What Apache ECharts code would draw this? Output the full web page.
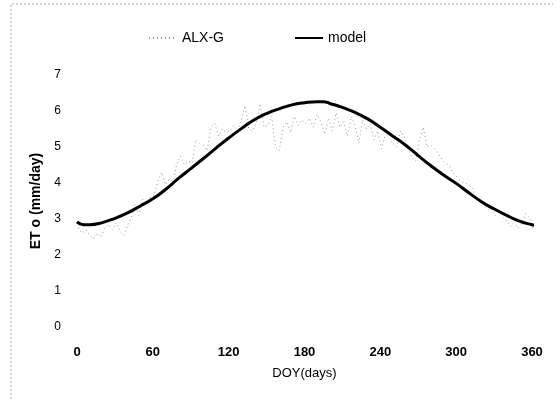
<!DOCTYPE html>
<html>
<head>
<meta charset="utf-8">
<script src="https://cdn.jsdelivr.net/npm/echarts@6/dist/echarts.min.js"></script>
<style>
  html, body { margin: 0; padding: 0; background: #fff; }
  #chart { width: 560px; height: 403px; }
</style>
</head>
<body>
<div id="chart"></div>
<script>
// x 轴刻度 (DOY)
var xTicks = [0, 60, 120, 180, 240, 300, 360];
// y 轴刻度
var yTicks = [0, 1, 2, 3, 4, 5, 6, 7];

// 模型曲线 [day, ETo]
var modelData = [
  [0, 2.92], [5, 2.84], [10, 2.84], [20, 2.9], [30, 3.02], [40, 3.17],
  [50, 3.36], [60, 3.56], [70, 3.82], [80, 4.12], [90, 4.4], [100, 4.68],
  [110, 4.97], [120, 5.25], [130, 5.51], [140, 5.75], [150, 5.93], [160, 6.06],
  [170, 6.17], [180, 6.23], [190, 6.26], [195, 6.26], [200, 6.21], [210, 6.1],
  [220, 5.96], [230, 5.78], [240, 5.55], [250, 5.3], [260, 5.05], [270, 4.76],
  [280, 4.48], [290, 4.22], [300, 3.99], [310, 3.73], [320, 3.48], [330, 3.28],
  [340, 3.1], [350, 2.94], [360, 2.84], [365, 2.8]
];

// 实测 ALX-G [day, ETo]
var alxData = [
  [1, 2.75], [4, 2.6], [7, 2.7], [10, 2.55], [13, 2.45], [16, 2.6], [19, 2.5],
  [22, 2.75], [25, 2.85], [28, 2.7], [31, 2.9], [34, 2.65], [37, 2.55], [40, 2.8],
  [43, 3.05], [46, 3.4], [49, 3.1], [52, 3.55], [55, 3.45], [58, 3.6], [61, 3.65],
  [64, 4.05], [67, 4.3], [70, 3.95], [73, 4.1], [76, 4.05], [79, 4.55], [82, 4.75],
  [85, 4.5], [88, 4.6], [91, 4.55], [94, 5.2], [97, 5.1], [100, 5.05], [103, 4.9],
  [106, 5.55], [109, 5.65], [112, 5.3], [115, 5.5], [118, 5.4], [121, 5.45], [124, 5.6],
  [127, 5.45], [130, 5.75], [133, 6.15], [136, 5.5], [139, 5.45], [142, 5.7], [145, 6.2],
  [148, 5.55], [151, 5.6], [154, 5.85], [157, 5.0], [160, 4.9], [163, 5.55], [166, 5.7],
  [169, 5.4], [172, 5.85], [175, 5.6], [178, 5.75], [181, 5.65], [184, 5.8], [187, 5.55],
  [190, 5.9], [193, 5.7], [196, 5.35], [199, 5.8], [202, 5.45], [205, 5.95], [208, 5.55],
  [211, 5.7], [214, 5.3], [217, 5.85], [220, 5.6], [223, 5.1], [226, 5.75], [229, 5.5],
  [232, 5.65], [235, 5.2], [238, 5.45], [241, 4.95], [244, 5.35], [247, 5.25], [250, 5.1],
  [253, 5.0], [256, 5.45], [259, 5.3], [262, 4.95], [265, 4.7], [268, 4.6], [271, 5.2],
  [274, 5.55], [277, 5.0], [280, 5.05], [283, 4.95], [286, 4.8], [289, 4.65], [292, 4.55],
  [295, 4.45], [298, 4.25], [301, 4.15], [304, 4.05], [307, 4.0], [310, 3.95], [313, 3.85],
  [316, 3.55], [319, 3.5], [322, 3.4], [325, 3.25], [328, 3.3], [331, 3.1], [334, 3.2],
  [337, 3.05], [340, 2.95], [343, 2.8], [346, 2.9], [349, 2.75], [352, 2.85], [355, 3.15],
  [358, 3.05], [361, 2.7], [364, 2.85]
];

var font = "'Liberation Sans', Arial, sans-serif";

var chart = echarts.init(document.getElementById("chart"));
chart.setOption({
  animation: false,
  backgroundColor: "#fff",
  textStyle: { fontFamily: font, color: "#000" },
  // 外框 (只看得到左边和上边的虚线)
  graphic: [
    {
      type: "polyline",
      shape: { points: [[11, 399], [11, 4], [553, 4]] },
      style: { stroke: "#aaa", lineWidth: 1, lineDash: [2, 2], fill: null }
    }
  ],
  legend: {
    left: 143,
    top: 26,
    itemWidth: 28,
    itemHeight: 10,
    itemGap: 70,
    itemStyle: { opacity: 0 },
    textStyle: { fontFamily: font, fontSize: 14, color: "#000" },
    data: ["ALX-G", "model"]
  },
  grid: { left: 77, right: 28, top: 75, bottom: 76 },
  xAxis: {
    type: "value",
    min: xTicks[0],
    max: xTicks[xTicks.length - 1],
    interval: 60,
    name: "DOY(days)",
    nameLocation: "middle",
    nameGap: 40,
    nameTextStyle: { fontFamily: font, fontSize: 13, color: "#000" },
    axisLine: { show: false },
    axisTick: { show: false },
    splitLine: { show: false },
    axisLabel: { margin: 19, fontSize: 13, fontWeight: "bold", color: "#000", fontFamily: font }
  },
  yAxis: {
    type: "value",
    min: yTicks[0],
    max: yTicks[yTicks.length - 1],
    interval: 1,
    name: "ET o (mm/day)",
    nameLocation: "middle",
    nameGap: 30,
    nameTextStyle: { fontFamily: font, fontSize: 14, fontWeight: "bold", color: "#000" },
    axisLine: { show: false },
    axisTick: { show: false },
    splitLine: { show: false },
    axisLabel: { margin: 16, fontSize: 12, color: "#000", fontFamily: font }
  },
  series: [
    {
      name: "ALX-G",
      type: "line",
      data: alxData,
      symbol: "none",
      clip: false,
      z: 1,
      lineStyle: { color: "#999", width: 1, type: [1, 3] },
      itemStyle: { color: "#999" }
    },
    {
      name: "model",
      type: "line",
      data: modelData,
      symbol: "none",
      smooth: true,
      clip: false,
      z: 2,
      lineStyle: { color: "#000", width: 3 },
      itemStyle: { color: "#000" }
    }
  ]
});
</script>
</body>
</html>
